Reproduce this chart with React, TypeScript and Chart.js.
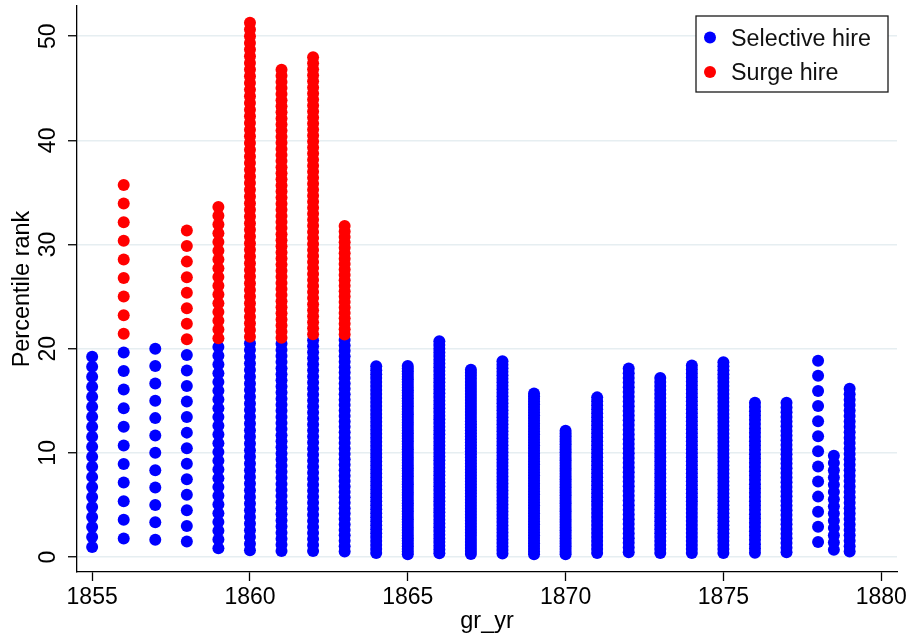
import React, { useEffect, useRef } from "react";
import { Chart, registerables } from "chart.js";

Chart.register(...registerables);

// Graduation year of each column
const years = [
  1855, 1856, 1857, 1858, 1859, 1860, 1861, 1862, 1863, 1864, 1865, 1866, 1867,
  1868, 1869, 1870, 1871, 1872, 1873, 1874, 1875, 1876, 1877, 1878, 1878.5, 1879,
];
// Number of people the percentile rank is taken over, per year
const rankBase = [
  104, 56, 60, 67, 119, 156, 171, 173, 192, 262, 387, 280, 345, 298, 382, 388,
  261, 221, 262, 261, 262, 243, 223, 69, 144, 192,
];
// Hires per year (ranked from the bottom), selective first, then surge
const selectiveCount = [
  20, 11, 12, 13, 24, 32, 35, 36, 40, 48, 71, 58, 62, 56, 60, 47, 40, 40, 45,
  48, 49, 36, 33, 13, 14, 31,
];
const surgeCount = [
  0, 9, 0, 8, 16, 48, 45, 47, 21, 0, 0, 0, 0, 0, 0, 0, 0, 0, 0, 0, 0, 0, 0, 0,
  0, 0,
];

const xTickValues = [1855, 1860, 1865, 1870, 1875, 1880];
const yTickValues = [0, 10, 20, 30, 40, 50];
const seriesNames = ["Selective hire", "Surge hire"];
const seriesColors = ["#0000ff", "#ff0000"];
const xTitle = "gr_yr";
const yTitle = "Percentile rank";

const FAMILY = '"Liberation Sans", Arial, Helvetica, sans-serif';

function selectivePoints() {
  const pts: { x: number; y: number }[] = [];
  years.forEach((yr, i) => {
    for (let r = 1; r <= selectiveCount[i]; r++) {
      pts.push({ x: yr, y: (r / rankBase[i]) * 100 });
    }
  });
  return pts;
}

function surgePoints() {
  const pts: { x: number; y: number }[] = [];
  years.forEach((yr, i) => {
    const start = selectiveCount[i];
    for (let r = start + 1; r <= start + surgeCount[i]; r++) {
      pts.push({ x: yr, y: (r / rankBase[i]) * 100 });
    }
  });
  return pts;
}

const yTickLabelPlugin = {
  id: "yTickLabels",
  afterDraw(chart: any) {
    const ctx = chart.ctx;
    const ys = chart.scales.y;
    ctx.save();
    ctx.fillStyle = "#000";
    ctx.font = `23px ${FAMILY}`;
    ctx.textAlign = "center";
    ctx.textBaseline = "alphabetic";
    yTickValues.forEach((v) => {
      const py = ys.getPixelForValue(v);
      ctx.save();
      ctx.translate(55, py);
      ctx.rotate(-Math.PI / 2);
      ctx.fillText(String(v), 0, 0);
      ctx.restore();
    });
    ctx.restore();
  },
};

const boxLegendPlugin = {
  id: "boxLegend",
  afterDraw(chart: any) {
    const ctx = chart.ctx;
    const area = chart.chartArea;
    const boxRight = area.right - 9;
    const boxW = 192;
    const boxLeft = boxRight - boxW;
    const boxTop = area.top + 10;
    const boxH = 76;
    ctx.save();
    ctx.fillStyle = "#ffffff";
    ctx.fillRect(boxLeft, boxTop, boxW, boxH);
    ctx.strokeStyle = "#1a1a1a";
    ctx.lineWidth = 1.3;
    ctx.strokeRect(boxLeft, boxTop, boxW, boxH);
    ctx.font = `23.3px ${FAMILY}`;
    ctx.textBaseline = "alphabetic";
    ctx.textAlign = "left";
    chart.data.datasets.forEach((ds: any, i: number) => {
      const cy = boxTop + 21.5 + i * 34.4;
      ctx.beginPath();
      ctx.fillStyle = ds.backgroundColor;
      ctx.arc(boxLeft + 14, cy, 6, 0, Math.PI * 2);
      ctx.fill();
      ctx.fillStyle = "#111";
      ctx.fillText(ds.label, boxLeft + 35, cy + 8.5);
    });
    ctx.restore();
  },
};

export default function App() {
  const canvasRef = useRef<HTMLCanvasElement | null>(null);

  useEffect(() => {
    if (!canvasRef.current) return;
    const tickFont = { family: FAMILY, size: 23 };
    const titleFont = { family: FAMILY, size: 23.5 };
    const chart = new Chart(canvasRef.current, {
      type: "scatter",
      data: {
        datasets: [
          {
            label: seriesNames[0],
            data: selectivePoints(),
            backgroundColor: seriesColors[0],
            borderColor: seriesColors[0],
            borderWidth: 0,
            pointRadius: 6,
            order: 1,
          },
          {
            label: seriesNames[1],
            data: surgePoints(),
            backgroundColor: seriesColors[1],
            borderColor: seriesColors[1],
            borderWidth: 0,
            pointRadius: 6,
            order: 0,
          },
        ],
      },
      options: {
        responsive: false,
        animation: false,
        devicePixelRatio: 1,
        events: [],
        layout: { padding: { left: 0, right: 15, top: 6, bottom: 0 } },
        plugins: {
          legend: { display: false },
          tooltip: { enabled: false },
        },
        scales: {
          x: {
            type: "linear",
            position: "bottom",
            min: 1854.52,
            max: 1880.5,
            afterBuildTicks: (scale: any) => {
              scale.ticks = xTickValues.map((v) => ({ value: v }));
            },
            afterFit: (scale: any) => {
              scale.height = 66;
            },
            grid: {
              drawOnChartArea: false,
              drawTicks: true,
              tickLength: 9,
              tickColor: "#000",
              tickWidth: 1.3,
            },
            border: { display: true, color: "#000", width: 1.3 },
            ticks: {
              font: tickFont,
              color: "#000",
              padding: 3,
              maxRotation: 0,
              autoSkip: false,
              callback: (v: any) => String(v),
            },
            title: {
              display: true,
              text: xTitle,
              font: titleFont,
              color: "#000",
              padding: { top: 0, bottom: 2 },
            },
          },
          y: {
            type: "linear",
            min: -1.44,
            max: 52.9,
            afterBuildTicks: (scale: any) => {
              scale.ticks = yTickValues.map((v) => ({ value: v }));
            },
            afterFit: (scale: any) => {
              scale.width = 77;
            },
            grid: {
              color: "#e6eef1",
              lineWidth: 1.5,
              drawTicks: true,
              tickLength: 9,
              tickColor: "#000",
              tickWidth: 1.3,
            },
            border: { display: true, color: "#000", width: 1.3 },
            ticks: { display: false },
            title: {
              display: true,
              text: yTitle,
              font: titleFont,
              color: "#000",
              padding: { top: 8, bottom: 0 },
            },
          },
        },
      },
      plugins: [yTickLabelPlugin, boxLegendPlugin],
    } as any);
    return () => chart.destroy();
  }, []);

  return (
    <div
      style={{
        position: "absolute",
        left: 0,
        top: 0,
        width: 912,
        height: 638,
        background: "#fff",
      }}
    >
      <canvas
        ref={canvasRef}
        width={912}
        height={638}
        style={{ display: "block", width: 912, height: 638 }}
      />
    </div>
  );
}
